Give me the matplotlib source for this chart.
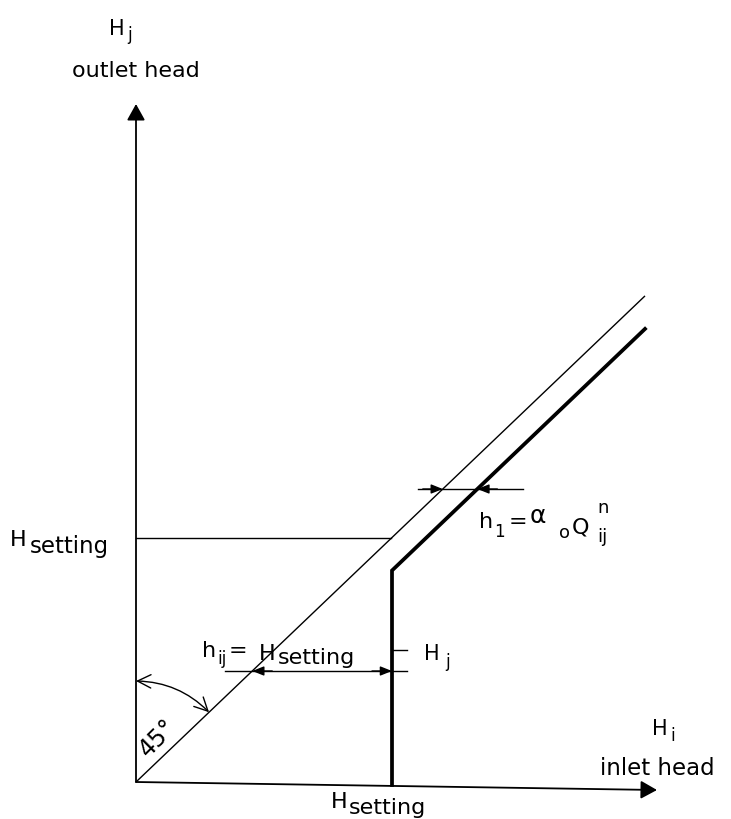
import numpy as np
import matplotlib
matplotlib.use("Agg")
import matplotlib.pyplot as plt
from matplotlib.patches import FancyArrowPatch

plt.rcParams['font.family'] = ['DejaVu Sans']

# schematic values (units: inlet head H_i across, outlet head H_j up)
H_set_i = 256      # setting marked on the inlet axis
H_set_j = 244      # setting marked on the outlet axis
slope = 0.955      # H_j = H_i line (drawn at "45 deg")
h1 = 33            # h1 = alpha_o Q_ij^n offset of the valve curve
Hi_max = 509       # right end of the two curves
axis_x_end = (521, -8)
axis_y_end = 678
h1_y = 293         # level of the h1 dimension arrows
hij_y = 111        # level of the h_ij dimension arrow
Hj_y = 132         # level of the H_j tick
arc_r = 101        # radius of the 45 deg arc

thin_x = np.array([0, Hi_max])
thin_y = slope * thin_x
thick_x = np.array([H_set_i, H_set_i, Hi_max])
thick_y = np.array([-3, slope * H_set_i - h1, slope * Hi_max - h1])

OX, OY = 136, 783   # where the origin sits on the page (px)

fig = plt.figure(figsize=(7.31, 8.2), dpi=100)
ax = fig.add_axes([0, 0, 1, 1])
ax.set_xlim(-OX, 731 - OX)
ax.set_ylim(-(820 - OY), OY)
ax.axis('off')


def txt(s, px, py, size=16, **kw):
    # px, py: left/baseline on the page in pixels
    ax.text(px - OX, OY - py, s, fontsize=size, ha='left', va='baseline', **kw)


big_head = '-|>,head_length=0.45,head_width=0.25'
small_head = '-|>,head_length=0.5,head_width=0.2'

# axes with arrows
ax.annotate('', xy=(0, axis_y_end), xytext=(0, 0),
            arrowprops=dict(arrowstyle=big_head, lw=1.3, color='k', mutation_scale=22,
                            shrinkA=0, shrinkB=0))
ax.annotate('', xy=axis_x_end, xytext=(0, 0),
            arrowprops=dict(arrowstyle=big_head, lw=1.3, color='k', mutation_scale=22,
                            shrinkA=0, shrinkB=0))

# curves
ax.plot(thin_x, thin_y, color='k', lw=1.0, solid_capstyle='butt')
ax.plot(thick_x, thick_y, color='k', lw=2.7, solid_joinstyle='miter')
ax.plot([0, H_set_j / slope], [H_set_j, H_set_j], color='k', lw=1.0)

# h1 dimension arrows
x_thin = h1_y / slope
x_thick = (h1_y + h1) / slope
ax.plot([x_thin - 25, x_thick + 46], [h1_y, h1_y], color='k', lw=1.0)
for xa, xb in [(x_thin, x_thin - 20), (x_thick, x_thick + 20)]:
    ax.annotate('', xy=(xa, h1_y), xytext=(xb, h1_y),
                arrowprops=dict(arrowstyle=small_head, lw=1.0, color='k',
                                mutation_scale=14, shrinkA=0, shrinkB=0))

# h_ij dimension arrow
x_a = hij_y / slope
ax.plot([89, H_set_i + 15], [hij_y, hij_y], color='k', lw=1.0)
for xa, xb in [(x_a, x_a + 20), (H_set_i, H_set_i - 20)]:
    ax.annotate('', xy=(xa, hij_y), xytext=(xb, hij_y),
                arrowprops=dict(arrowstyle=small_head, lw=1.0, color='k',
                                mutation_scale=14, shrinkA=0, shrinkB=0))
ax.plot([H_set_i, H_set_i + 15], [Hj_y, Hj_y], color='k', lw=1.0)

# 45 deg arc
ang_line = np.arctan(slope)
pA = (0, arc_r)
pB = (arc_r * np.cos(ang_line), arc_r * np.sin(ang_line))
ax.add_patch(FancyArrowPatch(pA, pB, connectionstyle='arc3,rad=-0.2',
                             arrowstyle='<->,head_length=0.6,head_width=0.3',
                             mutation_scale=16, lw=1.0,
                             color='k', shrinkA=0, shrinkB=0))

# labels
txt('H', 109, 35, 15)
txt('j', 127, 40, 12)
txt('outlet head', 72, 77, 16)

txt('H', 10, 546, 16)
txt('setting', 30, 553, 16.5)

txt('H', 331, 808, 16)
txt('setting', 349, 814, 16)

txt('H', 652, 735, 15)
txt('i', 670, 741, 12)
txt('inlet head', 600, 775, 16.5)

txt('h', 479, 528, 16)
txt('1', 494, 537, 12)
txt('=', 509, 528, 16)
txt('α', 530, 523, 18)
txt('o', 559, 538, 13)
txt('Q', 572, 533, 16)
txt('ij', 597, 542, 13)
txt('n', 597, 513, 13)

txt('h', 202, 657, 16)
txt('ij', 217, 664, 12)
txt('=', 229, 657, 16)
txt('H', 259, 660, 16)
txt('setting', 278, 664, 16)

txt('H', 424, 660, 15)
txt('j', 445, 667, 12)

ax.text(158 - OX, OY - 738, '45°', fontsize=17, ha='center', va='center', rotation=45)

fig.savefig('out.png', dpi=100)
